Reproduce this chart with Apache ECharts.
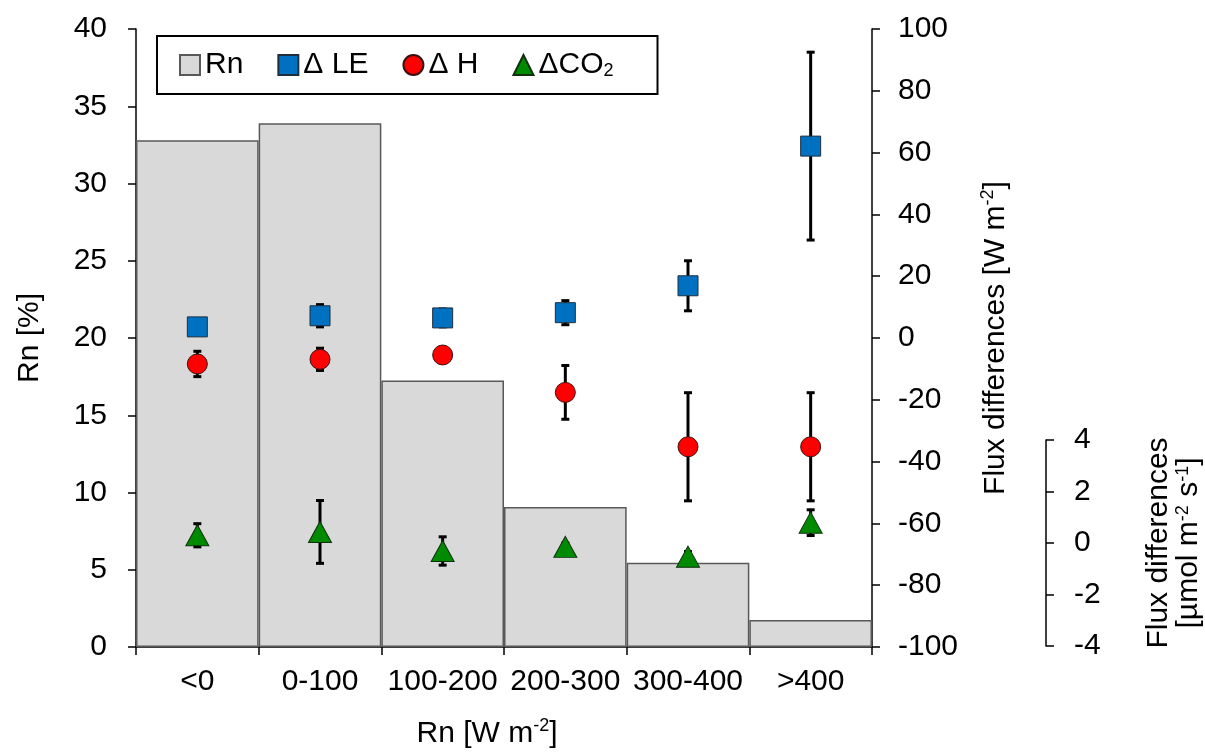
<!DOCTYPE html>
<html>
<head>
<meta charset="utf-8">
<script src="https://cdn.jsdelivr.net/npm/echarts@6/dist/echarts.min.js"></script>
<style>
html,body{margin:0;padding:0;background:#fff;}
#chart{width:1205px;height:756px;}
</style>
</head>
<body>
<div id="chart"></div>
<script>
const categories = ['<0', '0-100', '100-200', '200-300', '300-400', '>400'];
const rnPercent = [32.8, 33.9, 17.25, 9.06, 5.46, 1.75];
const deltaLE = [3.6, 7.2, 6.5, 8.2, 16.9, 62.1];
const deltaLEerr = [1.5, 3.6, 2.9, 3.9, 8.1, 30.4];
const deltaH = [-8.4, -6.9, -5.5, -17.6, -35.2, -35.2];
const deltaHerr = [4.1, 3.6, 2.0, 8.7, 17.5, 17.5];
const deltaCO2 = [0.30, 0.43, -0.31, -0.15, -0.53, 0.79];
const deltaCO2err = [0.45, 1.22, 0.55, 0.15, 0.2, 0.5];
const rnTicks = {min: 0, max: 40, interval: 5};
const fluxTicks = {min: -100, max: 100, interval: 20};
const co2Ticks = {min: -4, max: 4, interval: 2};

const FONT = "'Liberation Sans', Arial, sans-serif";
const FS = 30;
const rich = {
  sup: {fontSize: 18, lineHeight: 18, verticalAlign: 'top', fontFamily: FONT, color: '#000'},
  sub: {fontSize: 18, lineHeight: 18, verticalAlign: 'bottom', fontFamily: FONT, color: '#000'}
};

function errData(vals, errs) {
  return vals.map((v, i) => [i, v - errs[i], v + errs[i]]);
}
function errRender(params, api) {
  const x = api.value(0);
  const p1 = api.coord([x, api.value(2)]);
  const p2 = api.coord([x, api.value(1)]);
  const hw = 4;
  const style = {stroke: '#000', lineWidth: 3};
  return {
    type: 'group',
    children: [
      {type: 'line', shape: {x1: p1[0], y1: p1[1], x2: p2[0], y2: p2[1]}, style: style},
      {type: 'line', shape: {x1: p1[0] - hw, y1: p1[1], x2: p1[0] + hw, y2: p1[1]}, style: style},
      {type: 'line', shape: {x1: p2[0] - hw, y1: p2[1], x2: p2[0] + hw, y2: p2[1]}, style: style}
    ]
  };
}

const axisLine = {show: true, lineStyle: {color: '#000', width: 1.5}};
const axisTick = {show: true, length: 8, lineStyle: {color: '#000', width: 1.5}};
const labelBase = {color: '#000', fontSize: FS, fontFamily: FONT};

const chart = echarts.init(document.getElementById('chart'));
chart.setOption({
  animation: false,
  textStyle: {fontFamily: FONT},
  grid: [
    {left: 136, right: 333, top: 29, bottom: 109, outerBoundsMode: 'none', containLabel: false},
    {left: 136, right: 333, top: 440, bottom: 110, outerBoundsMode: 'none', containLabel: false}
  ],
  legend: {
    left: 157, top: 36,
    padding: [14, 44, 14, 22],
    borderColor: '#000', borderWidth: 2,
    backgroundColor: '#fff',
    itemGap: 34, itemWidth: 20, itemHeight: 20,
    textStyle: {fontSize: FS, color: '#000', fontFamily: FONT, rich: rich},
    formatter: function (n) { return n === 'ΔCO2' ? 'ΔCO{sub|2}' : n; },
    data: [
      {name: 'Rn', icon: 'rect'},
      {name: 'Δ LE', icon: 'rect'},
      {name: 'Δ H', icon: 'circle'},
      {name: 'ΔCO2', icon: 'triangle'}
    ]
  },
  xAxis: [
    {
      type: 'category', gridIndex: 0, data: categories,
      axisLine: axisLine, axisTick: axisTick,
      axisLabel: Object.assign({interval: 0, margin: 20}, labelBase),
      name: 'Rn [W m{sup|-2}]', nameLocation: 'middle', nameGap: 70,
      nameTextStyle: {fontSize: FS, color: '#000', fontFamily: FONT, lineHeight: 34, rich: rich, padding: [0, 34, 0, 0]}
    },
    {type: 'category', gridIndex: 1, data: categories, show: false}
  ],
  yAxis: [
    Object.assign({
      type: 'value', gridIndex: 0, position: 'left',
      axisLine: axisLine, axisTick: axisTick, splitLine: {show: false},
      axisLabel: Object.assign({margin: 29}, labelBase),
      name: 'Rn [%]', nameLocation: 'middle', nameRotate: 90, nameGap: 91,
      nameTextStyle: {fontSize: FS, color: '#000', fontFamily: FONT}
    }, rnTicks),
    Object.assign({
      type: 'value', gridIndex: 0, position: 'right',
      axisLine: axisLine, axisTick: axisTick, splitLine: {show: false},
      axisLabel: Object.assign({margin: 26}, labelBase),
      name: 'Flux differences [W m{sup|-2}]', nameLocation: 'middle', nameRotate: 90, nameGap: 107,
      nameTextStyle: {fontSize: FS, color: '#000', fontFamily: FONT, lineHeight: 34, rich: rich}
    }, fluxTicks),
    Object.assign({
      type: 'value', gridIndex: 1, position: 'right', offset: 174,
      axisLine: axisLine, axisTick: axisTick, splitLine: {show: false},
      axisLabel: Object.assign({margin: 28}, labelBase),
      name: 'Flux differences\n[µmol m{sup|-2} s{sup|-1}]', nameLocation: 'middle', nameRotate: 90, nameGap: 98,
      nameTextStyle: {fontSize: FS, color: '#000', fontFamily: FONT, lineHeight: 30, rich: rich}
    }, co2Ticks)
  ],
  series: [
    {
      name: 'Rn', type: 'bar', xAxisIndex: 0, yAxisIndex: 0,
      data: rnPercent, barCategoryGap: '0%',
      itemStyle: {color: '#d9d9d9', borderColor: '#595959', borderWidth: 1.5}
    },
    {
      type: 'custom', xAxisIndex: 0, yAxisIndex: 1, renderItem: errRender,
      encode: {x: 0, y: [1, 2]}, data: errData(deltaLE, deltaLEerr), z: 3
    },
    {
      type: 'custom', xAxisIndex: 0, yAxisIndex: 1, renderItem: errRender,
      encode: {x: 0, y: [1, 2]}, data: errData(deltaH, deltaHerr), z: 3
    },
    {
      type: 'custom', xAxisIndex: 1, yAxisIndex: 2, renderItem: errRender,
      encode: {x: 0, y: [1, 2]}, data: errData(deltaCO2, deltaCO2err), z: 3
    },
    {
      name: 'Δ LE', type: 'scatter', xAxisIndex: 0, yAxisIndex: 1,
      data: deltaLE, symbol: 'rect', symbolSize: 20, z: 4,
      itemStyle: {color: '#0070c0', borderColor: '#1f2f40', borderWidth: 1, opacity: 1}
    },
    {
      name: 'Δ H', type: 'scatter', xAxisIndex: 0, yAxisIndex: 1,
      data: deltaH, symbol: 'circle', symbolSize: 20, z: 4,
      itemStyle: {color: '#ff0000', borderColor: '#3a1010', borderWidth: 1, opacity: 1}
    },
    {
      name: 'ΔCO2', type: 'scatter', xAxisIndex: 1, yAxisIndex: 2,
      data: deltaCO2, symbol: 'triangle', symbolSize: [23, 21], z: 4,
      itemStyle: {color: '#008a00', borderColor: '#103010', borderWidth: 1, opacity: 1}
    }
  ]
});
</script>
</body>
</html>
